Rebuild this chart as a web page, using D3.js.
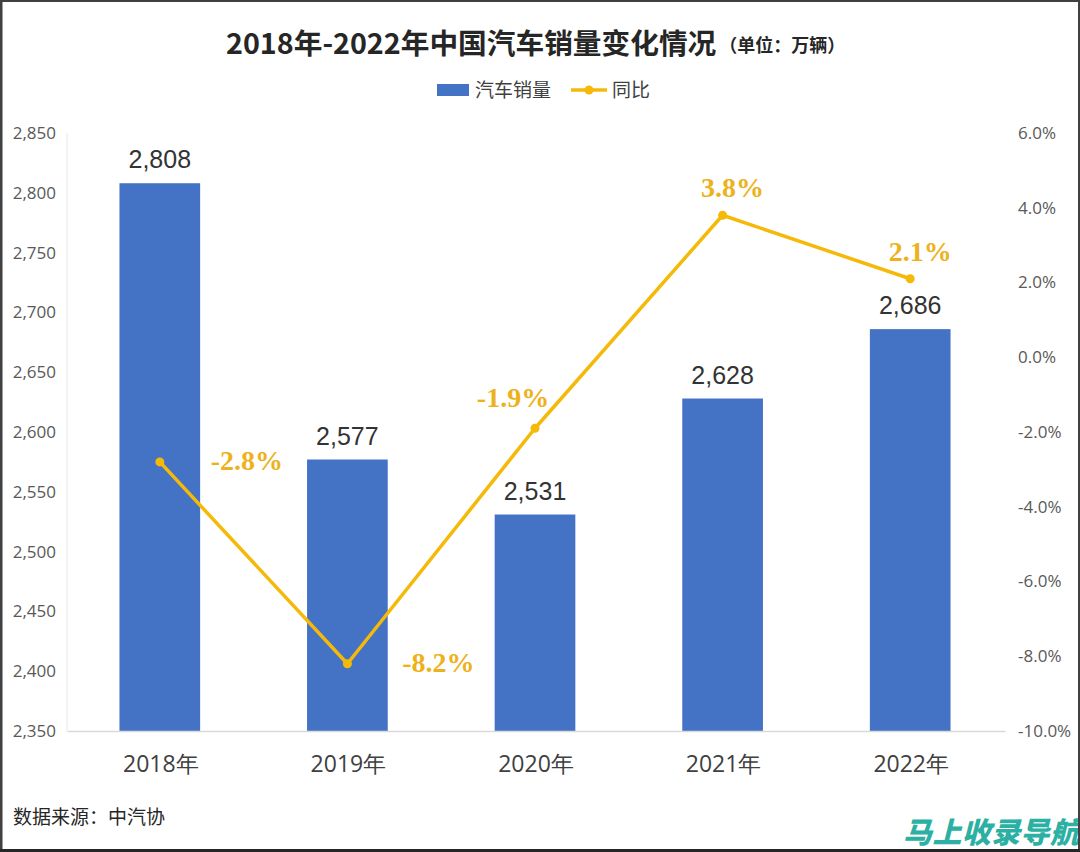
<!DOCTYPE html>
<html><head><meta charset="utf-8">
<script src="https://cdn.jsdelivr.net/npm/d3@7"></script>
<style>html,body{margin:0;padding:0;background:#fff;}svg{display:block;}</style>
</head><body>
<svg id="chart" width="1080" height="852"></svg>
<script>
const years = ["2018年","2019年","2020年","2021年","2022年"];
const sales = [2808, 2577, 2531, 2628, 2686];
const yoy = [-2.8, -8.2, -1.9, 3.8, 2.1];
const leftTicks = [2350,2400,2450,2500,2550,2600,2650,2700,2750,2800,2850];
const rightTicks = [-10,-8,-6,-4,-2,0,2,4,6];
// label placement offsets (dx, dy) for the yoy labels
const yoyLabelPos = [[87,-1],[91,-1],[-22,-30],[10,-27],[10,-27]];

const svg = d3.select("#chart");
const W = 1080, H = 852;
const m = {left:67, right:1005, top:133, bottom:731};
const blue = "#4472C4", gold = "#F5B90A", goldText = "#EDB21B";
const axisFont = "'Open Sans','Noto Sans',sans-serif";
const cjk = "'Noto Sans CJK SC','Noto Sans',sans-serif";

svg.append("rect").attr("width",W).attr("height",H).attr("fill","#fff");

const x = d3.scaleBand().domain(years).range([m.left, m.right]).paddingInner(0.57).paddingOuter(0.285);
const yL = d3.scaleLinear().domain([2350,2850]).range([m.bottom, m.top]);
const yR = d3.scaleLinear().domain([-10,6]).range([m.bottom, m.top]);

svg.append("line").attr("x1",m.left).attr("x2",m.left).attr("y1",m.top).attr("y2",m.bottom).attr("stroke","#e6e6e6").attr("stroke-width",1);

const gL = svg.append("g").attr("transform",`translate(${m.left},0)`)
  .call(d3.axisLeft(yL).tickValues(leftTicks).tickSize(0).tickPadding(11).tickFormat(d3.format(",")));
gL.select(".domain").remove();
gL.selectAll("text").attr("font-family",axisFont).attr("font-size",17).attr("fill","#595959");

const gR = svg.append("g").attr("transform",`translate(${m.right},0)`)
  .call(d3.axisRight(yR).tickValues(rightTicks).tickSize(0).tickPadding(13).tickFormat(d=>d.toFixed(1)+"%"));
gR.select(".domain").remove();
gR.selectAll("text").attr("font-family",axisFont).attr("font-size",17).attr("fill","#595959");

svg.append("g").selectAll("rect").data(sales).join("rect")
  .attr("x",(d,i)=>x(years[i])-1).attr("width",x.bandwidth())
  .attr("y",d=>yL(d)).attr("height",d=>yL(2350)-yL(d)).attr("fill",blue);

const gB = svg.append("g").attr("transform",`translate(0,${m.bottom})`)
  .call(d3.axisBottom(x).tickSize(0).tickPadding(25));
gB.select(".domain").attr("stroke","#d9d9d9").attr("stroke-width",1.5);
gB.selectAll("text").attr("font-family",axisFont).attr("font-size",23).attr("fill","#404040");

svg.append("g").selectAll("text").data(sales).join("text")
  .attr("x",(d,i)=>x(years[i])-1+x.bandwidth()/2).attr("y",d=>yL(d)-15)
  .attr("text-anchor","middle").attr("font-family","'Liberation Sans',Arial,sans-serif")
  .attr("font-size",25).attr("fill","#333").text(d=>d3.format(",")(d));

const cx = i => x(years[i]) - 1 + x.bandwidth()/2;
const line = d3.line().x((d,i)=>cx(i)).y(d=>yR(d));
svg.append("path").datum(yoy).attr("d",line).attr("fill","none").attr("stroke",gold).attr("stroke-width",3.5).attr("stroke-linejoin","round");
svg.append("g").selectAll("circle").data(yoy).join("circle")
  .attr("cx",(d,i)=>cx(i)).attr("cy",d=>yR(d)).attr("r",4.5).attr("fill",gold);

svg.append("g").selectAll("text").data(yoy).join("text")
  .attr("x",(d,i)=>cx(i)+yoyLabelPos[i][0]).attr("y",(d,i)=>yR(d)+yoyLabelPos[i][1]+9)
  .attr("text-anchor","middle").attr("font-family","'Liberation Serif','Times New Roman',serif")
  .attr("font-weight","bold").attr("font-size",28).attr("fill",goldText)
  .text(d=>d.toFixed(1)+"%");

const t = svg.append("text").attr("x",226).attr("y",54).attr("font-family",cjk).attr("font-weight","bold").attr("fill","#262626");
t.append("tspan").attr("font-size",28.7).text("2018年-2022年中国汽车销量变化情况");
t.append("tspan").attr("font-size",18).attr("dx",3).attr("dy",-2).text("（单位：万辆）");

svg.append("rect").attr("x",437).attr("y",84).attr("width",32).attr("height",12).attr("fill",blue);
svg.append("text").attr("x",475).attr("y",97).attr("font-family",cjk).attr("font-size",19).attr("fill","#404040").text("汽车销量");
svg.append("line").attr("x1",571).attr("x2",607).attr("y1",90).attr("y2",90).attr("stroke",gold).attr("stroke-width",3.5);
svg.append("circle").attr("cx",589).attr("cy",90).attr("r",4.5).attr("fill",gold);
svg.append("text").attr("x",612).attr("y",97).attr("font-family",cjk).attr("font-size",19).attr("fill","#404040").text("同比");

svg.append("text").attr("x",13).attr("y",824).attr("font-family",cjk).attr("font-size",19).attr("fill","#262626").text("数据来源：中汽协");

svg.append("text").attr("x",903).attr("y",843).attr("font-family",cjk).attr("font-weight","900").attr("font-style","italic")
  .attr("font-size",29).attr("fill","#2BB0A3").attr("textLength",176).text("马上收录导航");

svg.append("line").attr("x1",0).attr("x2",W).attr("y1",1).attr("y2",1).attr("stroke","#404040").attr("stroke-width",2);
svg.append("line").attr("x1",1).attr("x2",1).attr("y1",0).attr("y2",H).attr("stroke","#404040").attr("stroke-width",3);
svg.append("line").attr("x1",1079).attr("x2",1079).attr("y1",0).attr("y2",H).attr("stroke","#404040").attr("stroke-width",2);
svg.append("line").attr("x1",0).attr("x2",W).attr("y1",850.5).attr("y2",850.5).attr("stroke","#262626").attr("stroke-width",3);
</script>
</body></html>
